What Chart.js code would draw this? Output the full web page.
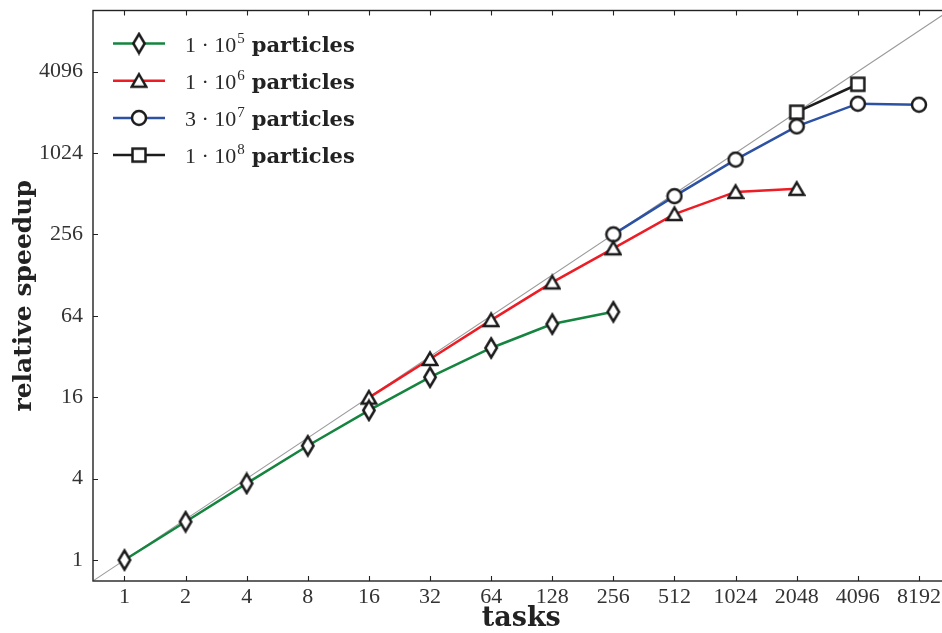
<!DOCTYPE html>
<html>
<head>
<meta charset="utf-8">
<script src="https://cdn.jsdelivr.net/npm/chart.js@4.4.1/dist/chart.umd.min.js"></script>
<style>
  body { margin: 0; background: #fff; }
  #wrap { width: 942px; height: 633px; overflow: hidden; position: relative; }
</style>
</head>
<body>
<div id="wrap"><canvas id="speedupChart" width="960" height="633"></canvas></div>
<script>
// ===== DATA =====
const xTicks = [1, 2, 4, 8, 16, 32, 64, 128, 256, 512, 1024, 2048, 4096, 8192];
const xTickLabels = ["1", "2", "4", "8", "16", "32", "64", "128", "256", "512", "1024", "2048", "4096", "8192"];
const yTicks = [1, 4, 16, 64, 256, 1024, 4096];
const yTickLabels = ["1", "4", "16", "64", "256", "1024", "4096"];

const tasks1e5 = [1, 2, 4, 8, 16, 32, 64, 128, 256];
const speedup1e5 = [1, 1.92, 3.69, 7.0, 12.8, 22.5, 37, 55.6, 68.5];

const tasks1e6 = [16, 32, 64, 128, 256, 512, 1024, 2048];
const speedup1e6 = [15.9, 30.7, 59.5, 113, 202, 362, 528, 556];

const tasks3e7 = [256, 512, 1024, 2048, 4096, 8192];
const speedup3e7 = [256, 491, 915, 1610, 2370, 2330];

const tasks1e8 = [2048, 4096];
const speedup1e8 = [2050, 3300];

const seriesNames = ["1 · 10|5", "1 · 10|6", "3 · 10|7", "1 · 10|8"];
const seriesColors = ["#15843f", "#ee1c24", "#2d52a3", "#1c1c1c"];

const axisMin = Math.pow(2, -0.5);
const axisMax = Math.pow(2, 13.5);

// ===== MARKERS (white fill, dark outline) =====
function makeMarker(kind) {
  const c = document.createElement("canvas");
  const ctx = c.getContext("2d");
  let w = 18, h = 18;
  if (kind === "diamond") { w = 16; h = 24; }
  c.width = w; c.height = h;
  ctx.lineWidth = 2.5;
  ctx.strokeStyle = "#1c1c1c";
  ctx.fillStyle = "#fff";
  ctx.lineJoin = "miter";
  ctx.beginPath();
  if (kind === "diamond") {
    ctx.moveTo(w / 2, 2.5); ctx.lineTo(w - 2.3, h / 2);
    ctx.lineTo(w / 2, h - 2.5); ctx.lineTo(2.3, h / 2); ctx.closePath();
  } else if (kind === "triangle") {
    ctx.moveTo(w / 2, 2.5); ctx.lineTo(w - 1.8, h - 3);
    ctx.lineTo(1.8, h - 3); ctx.closePath();
  } else if (kind === "circle") {
    ctx.arc(w / 2, h / 2, 7, 0, Math.PI * 2);
  } else {
    ctx.rect(2.5, 2.5, w - 5, h - 5);
  }
  ctx.fill();
  ctx.stroke();
  return c;
}
const markers = [makeMarker("diamond"), makeMarker("triangle"), makeMarker("circle"), makeMarker("square")];

function toPoints(xs, ys) {
  return xs.map((x, i) => ({ x: x, y: ys[i] }));
}

function seriesDataset(i, xs, ys) {
  return {
    data: toPoints(xs, ys),
    borderColor: seriesColors[i],
    borderWidth: 2.5,
    pointStyle: markers[i],
    pointRadius: 8,
    pointHoverRadius: 8,
    order: 1,
    tension: 0,
  };
}

const serifFont = "'Liberation Serif', 'DejaVu Serif', serif";
const boldFont = "'DejaVu Serif', serif";

// ===== FRAME + INWARD TICKS =====
const framePlugin = {
  id: "frame",
  afterDatasetsDraw(chart) {
    const { ctx, chartArea: a, scales } = chart;
    ctx.save();
    ctx.strokeStyle = "#222";
    ctx.lineWidth = 1.4;
    ctx.strokeRect(a.left, a.top, a.right - a.left, a.bottom - a.top);
    ctx.lineWidth = 1.1;
    ctx.beginPath();
    xTicks.forEach((v) => {
      const px = Math.round(scales.x.getPixelForValue(v)) + 0.5;
      ctx.moveTo(px, a.bottom); ctx.lineTo(px, a.bottom - 5);
      ctx.moveTo(px, a.top); ctx.lineTo(px, a.top + 5);
    });
    yTicks.forEach((v) => {
      const py = Math.round(scales.y.getPixelForValue(v)) + 0.5;
      ctx.moveTo(a.left, py); ctx.lineTo(a.left + 5, py);
      ctx.moveTo(a.right, py); ctx.lineTo(a.right - 5, py);
    });
    ctx.stroke();
    ctx.restore();
  },
};

// ===== LEGEND (mixed regular / superscript / bold) =====
const legendPlugin = {
  id: "mathLegend",
  afterDraw(chart) {
    const ctx = chart.ctx;
    ctx.save();
    seriesNames.forEach((name, i) => {
      const cy = 43.5 + i * 37.2;
      ctx.strokeStyle = seriesColors[i];
      ctx.lineWidth = 2.5;
      ctx.beginPath();
      ctx.moveTo(113, cy); ctx.lineTo(165, cy);
      ctx.stroke();
      const m = markers[i];
      ctx.drawImage(m, 139 - m.width / 2, cy - m.height / 2);

      const parts = name.split("|");
      const base = cy + 8;
      let x = 185;
      ctx.fillStyle = "#2a2a2a";
      ctx.textBaseline = "alphabetic";
      ctx.textAlign = "left";
      ctx.font = "22px " + serifFont;
      ctx.fillText(parts[0], x, base);
      x += ctx.measureText(parts[0]).width + 1;
      ctx.font = "15px " + serifFont;
      ctx.fillText(parts[1], x, base - 9);
      x += ctx.measureText(parts[1]).width + 7;
      ctx.fillStyle = "#222";
      ctx.font = "bold 21px " + boldFont;
      ctx.fillText("particles", x, base);
    });
    ctx.restore();
  },
};

const ctx = document.getElementById("speedupChart").getContext("2d");
const speedupChart = new Chart(ctx, {
  type: "line",
  data: {
    datasets: [
      seriesDataset(0, tasks1e5, speedup1e5),
      seriesDataset(1, tasks1e6, speedup1e6),
      seriesDataset(2, tasks3e7, speedup3e7),
      seriesDataset(3, tasks1e8, speedup1e8),
      {
        // ideal speedup
        data: [{ x: axisMin, y: axisMin }, { x: axisMax, y: axisMax }],
        borderColor: "#9a9a9a",
        borderWidth: 1.1,
        pointRadius: 0,
        order: 10,
      },
    ],
  },
  options: {
    responsive: false,
    animation: false,
    layout: { padding: { top: 9, right: 9, left: 0, bottom: 0 } },
    plugins: { legend: { display: false }, tooltip: { enabled: false } },
    scales: {
      x: {
        type: "logarithmic",
        min: axisMin,
        max: axisMax,
        grid: { display: false, drawTicks: false },
        border: { display: false },
        afterBuildTicks: (scale) => { scale.ticks = xTicks.map((v) => ({ value: v })); },
        afterFit: (scale) => {
          scale.height = 52;
          scale.paddingLeft = 0;
          scale.paddingRight = 0;
        },
        ticks: {
          autoSkip: false,
          maxRotation: 0,
          padding: 3,
          color: "#333",
          font: { family: serifFont, size: 22 },
          callback: (v) => xTickLabels[xTicks.indexOf(v)],
        },
        title: {
          display: true,
          text: "tasks",
          color: "#222",
          font: { family: boldFont, size: 27, weight: "bold", lineHeight: 1 },
          padding: { top: 0, bottom: 1 },
        },
      },
      y: {
        type: "logarithmic",
        min: axisMin,
        max: axisMax,
        grid: { display: false, drawTicks: false },
        border: { display: false },
        afterBuildTicks: (scale) => { scale.ticks = yTicks.map((v) => ({ value: v })); },
        afterFit: (scale) => {
          scale.width = 93;
          scale.paddingTop = 0;
          scale.paddingBottom = 0;
        },
        ticks: {
          autoSkip: false,
          padding: 10,
          color: "#333",
          font: { family: serifFont, size: 22 },
          callback: (v) => yTickLabels[yTicks.indexOf(v)],
        },
        title: {
          display: true,
          text: "relative speedup",
          color: "#222",
          font: { family: boldFont, size: 25, weight: "bold", lineHeight: 1 },
          padding: { top: 12, bottom: 0 },
        },
      },
    },
  },
  plugins: [framePlugin, legendPlugin],
});
</script>
</body>
</html>
